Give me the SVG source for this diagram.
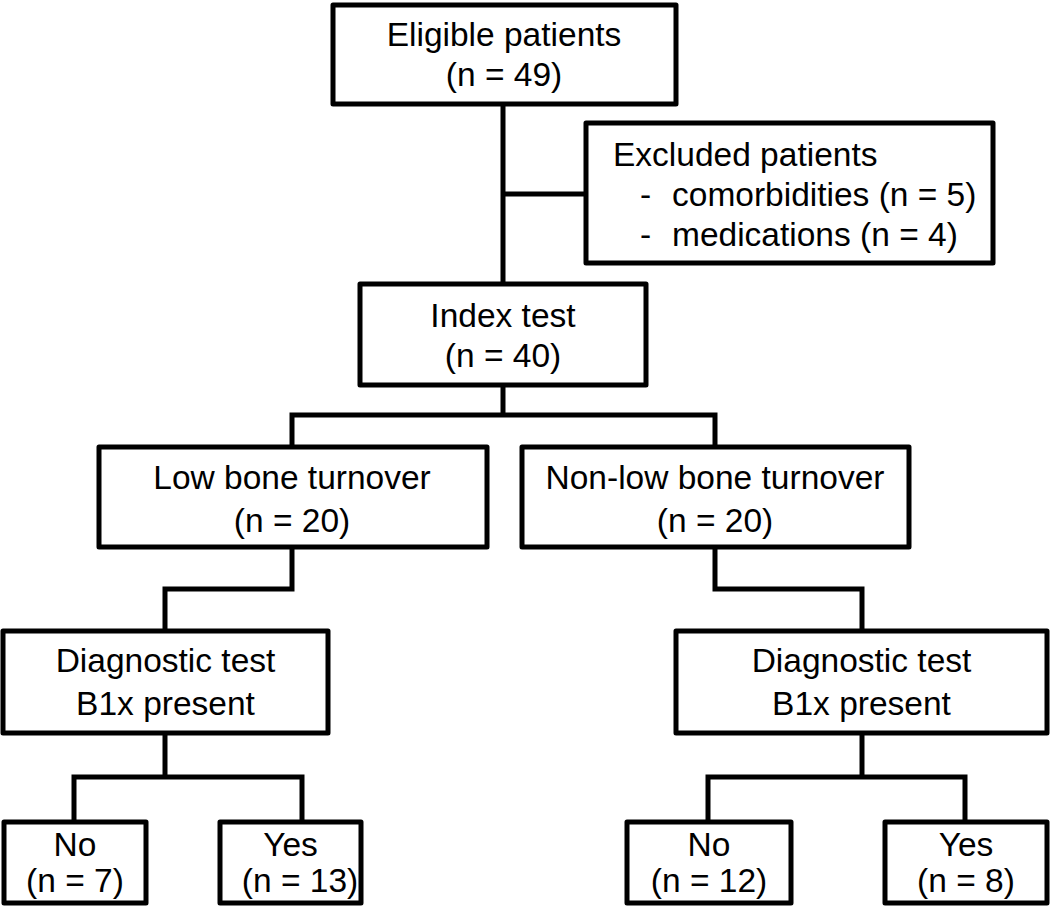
<svg xmlns="http://www.w3.org/2000/svg" width="1050" height="906" viewBox="0 0 1050 906">
<style>
.box{fill:#fff;stroke:#000;stroke-width:5;stroke-linejoin:round}
.ln{fill:none;stroke:#000;stroke-width:5;stroke-linejoin:miter}
text{font-family:"Liberation Sans",Arial,sans-serif;font-size:33.5px;fill:#000}
.c{text-anchor:middle}
</style>
<rect width="1050" height="906" fill="#fff"/>
<g id="connectors">
<path class="ln" d="M503,104 V284"/>
<path class="ln" d="M503,194 H586"/>
<path class="ln" d="M503,385 V415"/>
<path class="ln" d="M292,447 V415 H715 V447"/>
<path class="ln" d="M292,547 V589 H165 V631"/>
<path class="ln" d="M715,547 V589 H862 V631"/>
<path class="ln" d="M165,733 V777"/>
<path class="ln" d="M74,822 V777 H302 V822"/>
<path class="ln" d="M862,733 V777"/>
<path class="ln" d="M708,822 V777 H965 V822"/>
</g>
<g id="eligible">
<rect class="box" x="333" y="5" width="343" height="99"/>
<text class="c" x="504" y="46">Eligible patients</text>
<text class="c" x="504" y="86">(n = 49)</text>
</g>
<g id="excluded">
<rect class="box" x="586" y="123" width="407" height="140"/>
<text x="613" y="166">Excluded patients</text>
<text x="640" y="206">-</text>
<text x="672" y="206">comorbidities (n = 5)</text>
<text x="640" y="246">-</text>
<text x="672" y="246">medications (n = 4)</text>
</g>
<g id="index">
<rect class="box" x="360" y="284" width="286" height="101"/>
<text class="c" x="503" y="327">Index test</text>
<text class="c" x="503" y="367">(n = 40)</text>
</g>
<g id="low">
<rect class="box" x="99" y="447" width="388" height="100"/>
<text class="c" x="292" y="489">Low bone turnover</text>
<text class="c" x="292" y="532">(n = 20)</text>
</g>
<g id="nonlow">
<rect class="box" x="522" y="447" width="387" height="100"/>
<text class="c" x="715" y="489">Non-low bone turnover</text>
<text class="c" x="715" y="532">(n = 20)</text>
</g>
<g id="diag-left">
<rect class="box" x="3" y="631" width="325" height="102"/>
<text class="c" x="165.5" y="672">Diagnostic test</text>
<text class="c" x="165.5" y="715">B1x present</text>
</g>
<g id="diag-right">
<rect class="box" x="676" y="631" width="371" height="102"/>
<text class="c" x="861.5" y="672">Diagnostic test</text>
<text class="c" x="861.5" y="715">B1x present</text>
</g>
<g id="no-left">
<rect class="box" x="4" y="822" width="142" height="81"/>
<text class="c" x="75" y="856">No</text>
<text class="c" x="75" y="892">(n = 7)</text>
</g>
<g id="yes-left">
<rect class="box" x="220" y="822" width="141" height="81"/>
<text class="c" x="290.5" y="856">Yes</text>
<text class="c" x="300" y="892">(n = 13)</text>
</g>
<g id="no-right">
<rect class="box" x="627" y="822" width="164" height="81"/>
<text class="c" x="709" y="856">No</text>
<text class="c" x="709" y="892">(n = 12)</text>
</g>
<g id="yes-right">
<rect class="box" x="885" y="822" width="162" height="81"/>
<text class="c" x="966" y="856">Yes</text>
<text class="c" x="966" y="892">(n = 8)</text>
</g>
</svg>
